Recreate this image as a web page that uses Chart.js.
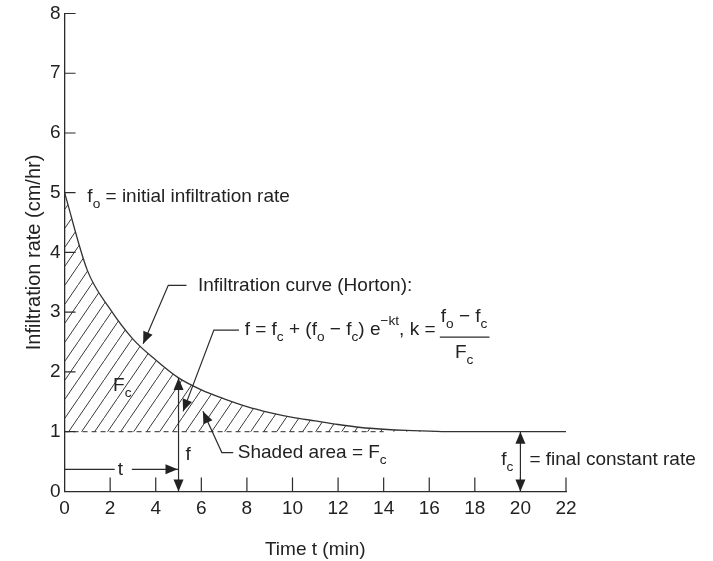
<!DOCTYPE html>
<html>
<head>
<meta charset="utf-8">
<script src="https://cdn.jsdelivr.net/npm/chart.js@4.4.1/dist/chart.umd.min.js"></script>
<style>
  body { margin: 0; background: #fff; }
  #wrap { width: 713px; height: 561px; position: relative; }
</style>
</head>
<body>
<div id="wrap"><canvas id="hortonChart"></canvas></div>
<script>
const FONT = "'Liberation Sans', Arial, sans-serif";

// values
const timeMin = [0, 1, 2, 3, 4, 5, 6, 7, 8, 9, 10, 11, 12, 13, 14, 15, 16, 17, 18, 19, 20, 21, 22];
const rateCmHr = [5.0, 3.7, 3.05, 2.55, 2.2, 1.9, 1.7, 1.55, 1.42, 1.32, 1.24, 1.18, 1.12, 1.07, 1.04, 1.02, 1.01, 1.0, 1.0, 1.0, 1.0, 1.0, 1.0];
const baseTime = [0, 14];
const baseRate = [1, 1];
const xTicks = [0, 2, 4, 6, 8, 10, 12, 14, 16, 18, 20, 22];
const yTicks = [0, 1, 2, 3, 4, 5, 6, 7, 8];

const fAtT = { t: 5, f: 1.9 };   // marked f at time t
const fcAt = { t: 20, f: 1 };   // final constant rate marker

function hatch() {
    const c = document.createElement('canvas');
    c.width = 13; c.height = 19;
    const g = c.getContext('2d');
    g.strokeStyle = '#3a3a3a';
    g.lineWidth = 1;
    g.beginPath();
    g.moveTo(-1.3, 20.9);
    g.lineTo(14.3, -1.9);
    g.stroke();
    return g.createPattern(c, 'repeat');
}

function rich(ctx, parts, x, y, size, measureOnly) {
    let cx = x;
    parts.forEach(([t, k]) => {
        const s = k ? size * 0.72 : size;
        ctx.font = s + 'px ' + FONT;
        const dy = k === 'sub' ? size * 0.38 : k === 'sup' ? -size * 0.45 : 0;
        if (!measureOnly) ctx.fillText(t, cx, y + dy);
        cx += ctx.measureText(t).width;
    });
    return cx - x;
}

function arrowHead(ctx, x1, y1, x2, y2) {
    const a = Math.atan2(y2 - y1, x2 - x1), L = 12, W = 5;
    ctx.beginPath();
    ctx.moveTo(x2, y2);
    ctx.lineTo(x2 - L * Math.cos(a) + W * Math.sin(a), y2 - L * Math.sin(a) - W * Math.cos(a));
    ctx.lineTo(x2 - L * Math.cos(a) - W * Math.sin(a), y2 - L * Math.sin(a) + W * Math.cos(a));
    ctx.closePath();
    ctx.fill();
}

function poly(ctx, pts) {
    ctx.beginPath();
    ctx.moveTo(pts[0][0], pts[0][1]);
    pts.slice(1).forEach(p => ctx.lineTo(p[0], p[1]));
    ctx.stroke();
}

const notes = {
    id: 'notes',
    afterDatasetsDraw(chart) {
        const { ctx, scales: { x, y } } = chart;
        const px = v => x.getPixelForValue(v);
        const py = v => y.getPixelForValue(v);
        ctx.save();
        ctx.strokeStyle = '#2b2b2b';
        ctx.fillStyle = '#222';
        ctx.lineWidth = 1.2;

        // tick marks inside the axes
        ctx.beginPath();
        yTicks.slice(1).forEach(v => { ctx.moveTo(px(0), py(v)); ctx.lineTo(px(0) + 11, py(v)); });
        xTicks.slice(1).forEach(v => { ctx.moveTo(px(v), py(0)); ctx.lineTo(px(v), py(0) - 14); });
        ctx.stroke();

        ctx.textBaseline = 'middle';
        ctx.textAlign = 'left';
        const fs = 19;

        // f0 label
        rich(ctx, [['f', ''], ['o', 'sub'], [' = initial infiltration rate', '']], px(1.0), py(4.93), fs);

        // Horton curve label + leader
        rich(ctx, [['Infiltration curve (Horton):', '']], px(5.85), py(3.45), fs);
        poly(ctx, [[px(5.35), py(3.45)], [px(4.55), py(3.45)], [px(3.45), py(2.47)]]);
        arrowHead(ctx, px(4.55), py(3.45), px(3.45), py(2.47));

        // equation + leader
        const ex = px(7.9), ey = py(2.7);
        poly(ctx, [[px(7.65), ey], [px(6.55), ey], [px(5.2), py(1.34)]]);
        arrowHead(ctx, px(6.55), ey, px(5.2), py(1.34));
        const w1 = rich(ctx, [['f = f', ''], ['c', 'sub'], [' + (f', ''], ['o', 'sub'], [' \u2212 f', ''], ['c', 'sub'],
            [') e', ''], ['\u2212kt', 'sup'], [', k = ', '']], ex, ey, fs);
        const num = [['f', ''], ['o', 'sub'], [' \u2212 f', ''], ['c', 'sub']];
        const den = [['F', ''], ['c', 'sub']];
        const fx = ex + w1;
        const wn = rich(ctx, num, 0, 0, fs, true);
        const wd = rich(ctx, den, 0, 0, fs, true);
        rich(ctx, num, fx, ey - 13, fs);
        poly(ctx, [[fx - 1, ey + 7], [fx + wn + 2, ey + 7]]);
        rich(ctx, den, fx + (wn - wd) / 2, ey + 23, fs);

        // Fc inside hatch
        rich(ctx, [['F', ''], ['c', 'sub']], px(2.13), py(1.76), fs);

        // shaded area leader
        poly(ctx, [[px(6.07), py(1.34)], [px(6.9), py(0.65)], [px(7.4), py(0.65)]]);
        arrowHead(ctx, px(6.9), py(0.65), px(6.07), py(1.34));
        rich(ctx, [['Shaded area = F', ''], ['c', 'sub']], px(7.6), py(0.65), fs);

        // f double arrow at t
        poly(ctx, [[px(fAtT.t), py(0)], [px(fAtT.t), py(fAtT.f)]]);
        arrowHead(ctx, px(fAtT.t), py(1), px(fAtT.t), py(fAtT.f));
        arrowHead(ctx, px(fAtT.t), py(1), px(fAtT.t), py(0));
        rich(ctx, [['f', '']], px(fAtT.t) + 7, py(0.62), fs);

        // t arrow
        const ty = py(0.37);
        poly(ctx, [[px(0), ty], [px(2.2), ty]]);
        poly(ctx, [[px(2.95), ty], [px(fAtT.t), ty]]);
        arrowHead(ctx, px(3), ty, px(fAtT.t) - 1, ty);
        ctx.textAlign = 'center';
        rich(ctx, [['t', '']], px(2.58) - 3, ty, fs);
        ctx.textAlign = 'left';

        // fc double arrow
        poly(ctx, [[px(fcAt.t), py(0)], [px(fcAt.t), py(fcAt.f)]]);
        arrowHead(ctx, px(fcAt.t), py(0.5), px(fcAt.t), py(fcAt.f));
        arrowHead(ctx, px(fcAt.t), py(0.5), px(fcAt.t), py(0));
        const fcParts = [['f', ''], ['c', 'sub']];
        const wfc = rich(ctx, fcParts, 0, 0, fs, true);
        rich(ctx, fcParts, px(fcAt.t) - 7 - wfc, py(0.53), fs);
        rich(ctx, [['= final constant rate', '']], px(fcAt.t) + 9, py(0.53), fs);

        ctx.restore();
    }
};

const canvas = document.getElementById('hortonChart');

new Chart(canvas, {
    type: 'line',
    data: {
        datasets: [{
            label: 'Infiltration curve',
            data: timeMin.map((t, i) => ({ x: t, y: rateCmHr[i] })),
            borderColor: '#333',
            borderWidth: 1.3,
            pointRadius: 0,
            cubicInterpolationMode: 'monotone',
            fill: { value: 1 },
            backgroundColor: hatch()
        }, {
            label: 'fc',
            data: baseTime.map((t, i) => ({ x: t, y: baseRate[i] })),
            borderColor: '#555',
            borderWidth: 1.2,
            borderDash: [5, 4],
            pointRadius: 0,
            fill: false
        }]
    },
    options: {
        responsive: true,
        maintainAspectRatio: false,
        animation: false,
        layout: { padding: { left: 18, right: 147, top: 0, bottom: 0 } },
        plugins: { legend: { display: false }, tooltip: { enabled: false } },
        scales: {
            x: {
                type: 'linear',
                min: 0, max: 22,
                afterBuildTicks: s => { s.ticks = xTicks.map(v => ({ value: v })); },
                grid: { display: false, drawTicks: false },
                border: { display: true, color: '#2b2b2b', width: 1.3 },
                ticks: { color: '#222', padding: 6, font: { family: FONT, size: 19 } },
                title: { display: true, text: 'Time t (min)', color: '#222', padding: { top: 12, bottom: 0 }, font: { family: FONT, size: 19 } }
            },
            y: {
                min: 0, max: 8,
                afterBuildTicks: s => { s.ticks = yTicks.map(v => ({ value: v })); },
                grid: { display: false, drawTicks: false },
                border: { display: true, color: '#2b2b2b', width: 1.3 },
                ticks: { color: '#222', padding: 4, font: { family: FONT, size: 19, lineHeight: 1 } },
                title: { display: true, text: 'Infiltration rate (cm/hr)', color: '#222', padding: { top: 4, bottom: 0 }, font: { family: FONT, size: 20 } }
            }
        }
    },
    plugins: [notes]
});
</script>
</body>
</html>
